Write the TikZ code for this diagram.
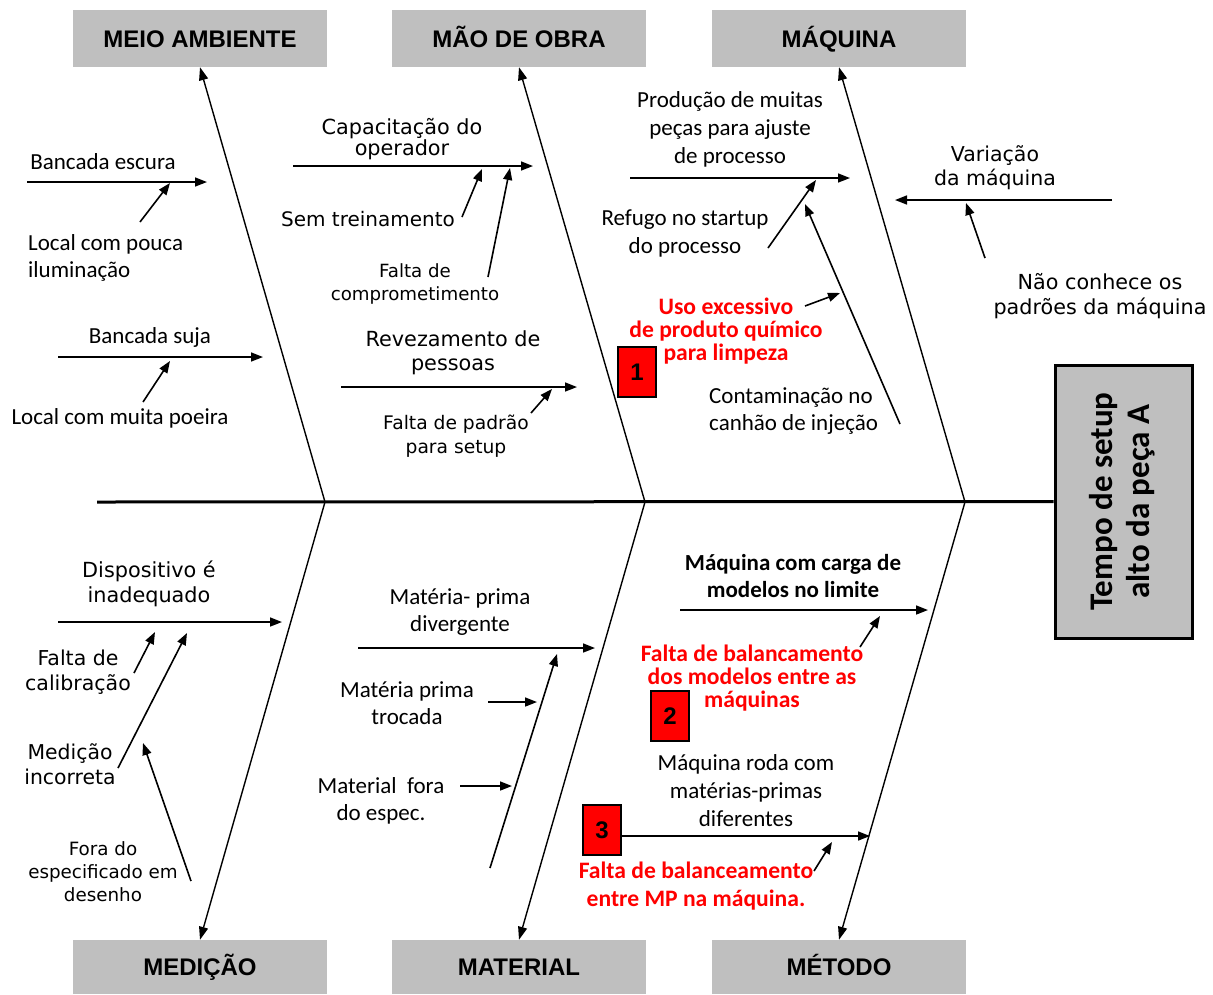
\documentclass[tikz,border=0pt]{standalone}
\usepackage{fontspec}
\setmainfont{DejaVu Sans}
\newfontfamily\calfam{Carlito}
\newfontfamily\libfam{Liberation Sans}
\usetikzlibrary{arrows.meta}
\definecolor{hdrgray}{RGB}{191,191,191}
\definecolor{redtxt}{RGB}{255,0,0}
\tikzset{
 hdr/.style={fill=hdrgray, minimum width=254pt, minimum height=57pt, inner sep=0pt, text height=17pt, text depth=0pt, font=\libfam\bfseries\fontsize{24}{24}\selectfont},
 hdrb/.style={hdr, minimum height=54pt},
 cause/.style={line width=1.6pt, -{Triangle[length=12pt,width=9pt]}},
 bone/.style={line width=1.4pt, -{Triangle[length=13pt,width=9pt]}},
 ct/.style={font=\calfam\fontsize{23}{27}\selectfont, align=center, inner sep=0pt},
 vt/.style={font=\fontsize{20.7}{25}\selectfont, align=center, inner sep=0pt},
 rt/.style={font=\calfam\bfseries\fontsize{23.6}{23}\selectfont, text=redtxt, align=center, inner sep=0pt},
 numbox/.style={fill=redtxt, draw=black, line width=1.5pt, minimum width=38pt, minimum height=50pt, inner sep=0pt, font=\libfam\bfseries\fontsize{24}{24}\selectfont},
}
\begin{document}
\begin{tikzpicture}[x=1pt,y=-1pt]
\useasboundingbox (0,0) rectangle (1213,994);
\fill[white] (0,0) rectangle (1213,994);

% header boxes
\node[hdr] (meio) at (200,38.5) {MEIO AMBIENTE};
\node[hdr] (mao) at (519,38.5) {MÃO DE OBRA};
\node[hdr] (maq) at (839,38.5) {MÁQUINA};
\node[hdrb] (med) at (200,967) {MEDIÇÃO};
\node[hdrb] (mat) at (519,967) {MATERIAL};
\node[hdrb] (met) at (839,967) {MÉTODO};

% effect box
\node[draw=black, line width=3pt, fill=hdrgray, minimum width=137pt, minimum height=273pt, inner sep=0pt] (effect) at (1123.5,501.5)
  {\rotatebox{90}{\calfam\bfseries\fontsize{33}{37}\selectfont\begin{tabular}{@{}c@{}}Tempo de setup\\alto da peça A\end{tabular}}};

% spine and bones
\coordinate (spineL) at (97,502);
\coordinate (j1) at (325,502);
\coordinate (j2) at (645,502);
\coordinate (j3) at (965,502);
\draw[line width=3pt] (spineL) -- (effect.west);
\draw[bone] (j1) -- (meio.south);
\draw[bone] (j2) -- (mao.south);
\draw[bone] (j3) -- (maq.south);
\draw[bone] (j1) -- (med.north);
\draw[bone] (j2) -- (mat.north);
\draw[bone] (j3) -- (met.north);

% ---------- MEIO AMBIENTE ----------
\node[ct] (t1) at (103,162) {Bancada escura};
\node[ct, anchor=west, align=left] (t1a) at (28,258) {Local com pouca\\iluminação};
\node[ct] (t2) at (150,337) {Bancada suja};
\node[ct] (t2a) at (120,418) {Local com muita poeira};
\coordinate (a1s) at (27,182); \coordinate (a1e) at (207,182);
\coordinate (a2s) at (58,357); \coordinate (a2e) at (263,357);
\coordinate (s1s) at (140,222); \coordinate (s1e) at (170,183);
\coordinate (s2s) at (143,402); \coordinate (s2e) at (170,361);
\draw[cause] (a1s) -- (a1e);
\draw[cause] (a2s) -- (a2e);
\draw[cause] (s1s) -- (s1e);
\draw[cause] (s2s) -- (s2e);

% ---------- MAO DE OBRA ----------
\node[vt, font=\fontsize{20.8}{20}\selectfont] (t3) at (402,139) {Capacitação do\\operador};
\node[vt, font=\fontsize{20}{23}\selectfont] (t3a) at (368,219) {Sem treinamento};
\node[vt, font=\fontsize{18.2}{23}\selectfont] (t3b) at (415,284) {Falta de\\comprometimento};
\node[vt, font=\fontsize{20.8}{24}\selectfont] (t4) at (453,353) {Revezamento de\\pessoas};
\node[vt, font=\fontsize{18.7}{24}\selectfont] (t4a) at (456,436) {Falta de padrão\\para setup};
\coordinate (a3s) at (293,166); \coordinate (a3e) at (533,166);
\coordinate (a4s) at (341,387); \coordinate (a4e) at (577,387);
\coordinate (s3s) at (462,217); \coordinate (s3e) at (482,169);
\coordinate (s4s) at (488,277); \coordinate (s4e) at (510,168);
\coordinate (s5s) at (531,413); \coordinate (s5e) at (552,389);
\draw[cause] (a3s) -- (a3e);
\draw[cause] (a4s) -- (a4e);
\draw[cause] (s3s) -- (s3e);
\draw[cause] (s4s) -- (s4e);
\draw[cause] (s5s) -- (s5e);

% ---------- MAQUINA ----------
\node[ct, font=\calfam\fontsize{23}{28}\selectfont] (t5) at (730,129) {Produção de muitas\\peças para ajuste\\de processo};
\node[ct, font=\calfam\fontsize{23}{28}\selectfont] (t5a) at (685,233) {Refugo no startup\\do processo};
\node[ct, anchor=west, align=left] (t5b) at (709,411) {Contaminação no\\canhão de injeção};
\node[rt] (t5c) at (726,331) {Uso excessivo\\de produto químico\\para limpeza};
\node[numbox] (b1) at (637,372) {1};
\coordinate (a5s) at (630,178); \coordinate (a5e) at (850,178);
\coordinate (s6s) at (768,248); \coordinate (s6e) at (816,180);
\coordinate (s7s) at (900,424); \coordinate (s7e) at (805,204);
\coordinate (s8s) at (805,306); \coordinate (s8e) at (840,293);
\draw[cause] (a5s) -- (a5e);
\draw[cause] (s6s) -- (s6e);
\draw[cause] (s7s) -- (s7e);
\draw[cause] (s8s) -- (s8e);

\node[vt, font=\fontsize{20.5}{24}\selectfont] (t6) at (995,168) {Variação\\da máquina};
\node[vt, font=\fontsize{20.7}{25}\selectfont] (t6a) at (1100,296) {Não conhece os\\padrões da máquina};
\coordinate (a6s) at (1112,200); \coordinate (a6e) at (895,200);
\coordinate (s9s) at (985,258); \coordinate (s9e) at (966,203);
\draw[cause] (a6s) -- (a6e);
\draw[cause] (s9s) -- (s9e);

% ---------- MEDICAO ----------
\node[vt, font=\fontsize{20.8}{25}\selectfont] (t7) at (149,584) {Dispositivo é\\inadequado};
\node[vt, font=\fontsize{20.5}{25}\selectfont] (t7a) at (78,672) {Falta de\\calibração};
\node[vt, font=\fontsize{20.4}{25}\selectfont] (t7b) at (70,764) {Medição\\incorreta};
\node[vt, font=\fontsize{18.3}{23}\selectfont] (t7c) at (103,872) {Fora do\\especificado em\\desenho};
\coordinate (a7s) at (58,622); \coordinate (a7e) at (282,622);
\coordinate (s10s) at (134,673); \coordinate (s10e) at (155,632);
\coordinate (s11s) at (118,768); \coordinate (s11e) at (187,633);
\coordinate (s12s) at (191,881); \coordinate (s12e) at (143,743);
\draw[cause] (a7s) -- (a7e);
\draw[cause] (s10s) -- (s10e);
\draw[cause] (s11s) -- (s11e);
\draw[cause] (s12s) -- (s12e);

% ---------- MATERIAL ----------
\node[ct] (t8) at (460,612) {Matéria- prima\\divergente};
\node[ct] (t8a) at (407,703) {Matéria prima\\trocada};
\node[ct] (t8b) at (381,801) {Material\ \ fora\\do espec.};
\coordinate (a8s) at (358,648); \coordinate (a8e) at (595,648);
\coordinate (s13s) at (490,868); \coordinate (s13e) at (557,654);
\coordinate (s14s) at (488,702); \coordinate (s14e) at (537,702);
\coordinate (s15s) at (460,786); \coordinate (s15e) at (512,786);
\draw[cause] (a8s) -- (a8e);
\draw[cause] (s13s) -- (s13e);
\draw[cause] (s14s) -- (s14e);
\draw[cause] (s15s) -- (s15e);

% ---------- METODO ----------
\node[ct, font=\calfam\bfseries\fontsize{23}{27}\selectfont] (t9) at (793,576) {Máquina com carga de\\modelos no limite};
\node[rt] (t9a) at (752,678) {Falta de balancamento\\dos modelos entre as\\máquinas};
\node[numbox] (b2) at (670,716) {2};
\node[ct, font=\calfam\fontsize{23}{28}\selectfont] (t10) at (746,791) {Máquina roda com\\matérias-primas\\diferentes};
\node[numbox] (b3) at (602,830) {3};
\node[rt, font=\calfam\bfseries\fontsize{23.6}{28}\selectfont] (t10a) at (696,886) {Falta de balanceamento\\entre MP na máquina.};
\coordinate (a9s) at (680,610); \coordinate (a9e) at (928,610);
\coordinate (a10e) at (870,836);
\coordinate (s16s) at (860,647); \coordinate (s16e) at (880,616);
\coordinate (s17s) at (814,871); \coordinate (s17e) at (832,842);
\draw[cause] (a9s) -- (a9e);
\draw[cause] (b3.east |- a10e) -- (a10e);
\draw[cause] (s16s) -- (s16e);
\draw[cause] (s17s) -- (s17e);
\end{tikzpicture}
\end{document}
